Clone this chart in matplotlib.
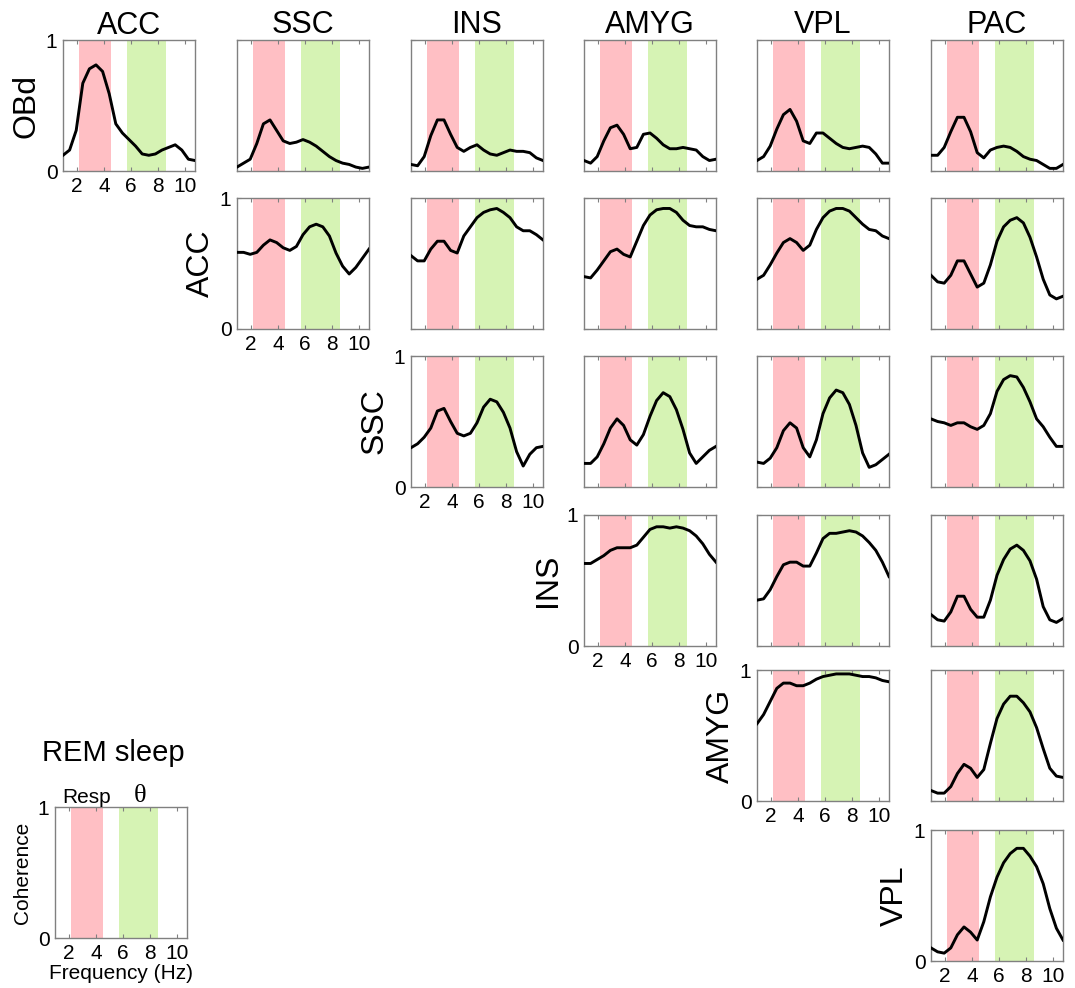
import matplotlib
matplotlib.use("Agg")
import matplotlib.pyplot as plt
import numpy as np

plt.rcParams['font.family'] = ['Liberation Sans', 'DejaVu Sans']

# frequency grid (Hz) shared by all coherence curves
freqs = np.linspace(1, 10.7, 21)

regions_col = ["ACC", "SSC", "INS", "AMYG", "VPL", "PAC"]
regions_row = ["OBd", "ACC", "SSC", "INS", "AMYG", "VPL"]

resp_band = (2.2, 4.5)
theta_band = (5.7, 8.6)

# coherence spectra, row region vs column region
obd_acc = [0.12, 0.16, 0.31, 0.67, 0.78, 0.81, 0.76, 0.59, 0.36, 0.29, 0.24,
           0.19, 0.13, 0.12, 0.13, 0.16, 0.18, 0.20, 0.16, 0.09, 0.08]
obd_ssc = [0.03, 0.06, 0.09, 0.21, 0.36, 0.39, 0.31, 0.23, 0.21, 0.22, 0.24,
           0.22, 0.19, 0.15, 0.11, 0.08, 0.06, 0.05, 0.03, 0.02, 0.03]
obd_ins = [0.05, 0.04, 0.11, 0.27, 0.39, 0.39, 0.28, 0.18, 0.15, 0.18, 0.20,
           0.16, 0.13, 0.12, 0.14, 0.16, 0.15, 0.15, 0.14, 0.10, 0.08]
obd_amyg = [0.08, 0.06, 0.11, 0.23, 0.33, 0.35, 0.28, 0.17, 0.18, 0.28, 0.29,
            0.25, 0.20, 0.17, 0.17, 0.18, 0.17, 0.16, 0.11, 0.08, 0.09]
obd_vpl = [0.08, 0.11, 0.19, 0.32, 0.43, 0.47, 0.38, 0.23, 0.21, 0.29, 0.29,
           0.25, 0.21, 0.18, 0.17, 0.18, 0.19, 0.18, 0.13, 0.06, 0.06]
obd_pac = [0.12, 0.12, 0.18, 0.30, 0.41, 0.41, 0.30, 0.14, 0.10, 0.16, 0.18,
           0.19, 0.18, 0.15, 0.11, 0.09, 0.08, 0.05, 0.02, 0.02, 0.05]

acc_ssc = [0.585, 0.585, 0.57, 0.585, 0.64, 0.68, 0.66, 0.62, 0.60, 0.63, 0.72,
           0.78, 0.80, 0.78, 0.71, 0.58, 0.48, 0.42, 0.47, 0.54, 0.61]
acc_ins = [0.56, 0.52, 0.52, 0.61, 0.67, 0.67, 0.60, 0.58, 0.71, 0.78, 0.85,
           0.89, 0.91, 0.92, 0.89, 0.85, 0.78, 0.75, 0.75, 0.72, 0.68]
acc_amyg = [0.40, 0.39, 0.45, 0.52, 0.59, 0.61, 0.57, 0.55, 0.67, 0.79, 0.87,
            0.91, 0.92, 0.92, 0.89, 0.83, 0.79, 0.78, 0.78, 0.76, 0.75]
acc_vpl = [0.38, 0.41, 0.49, 0.58, 0.66, 0.69, 0.66, 0.60, 0.64, 0.76, 0.85,
           0.90, 0.92, 0.92, 0.90, 0.85, 0.80, 0.76, 0.75, 0.71, 0.69]
acc_pac = [0.41, 0.36, 0.35, 0.41, 0.52, 0.52, 0.42, 0.32, 0.35, 0.49, 0.67,
           0.78, 0.83, 0.85, 0.81, 0.70, 0.55, 0.38, 0.26, 0.23, 0.25]

ssc_ins = [0.30, 0.33, 0.38, 0.45, 0.58, 0.60, 0.50, 0.41, 0.39, 0.41, 0.49,
           0.61, 0.67, 0.65, 0.57, 0.45, 0.27, 0.16, 0.25, 0.30, 0.31]
ssc_amyg = [0.18, 0.18, 0.23, 0.33, 0.45, 0.52, 0.47, 0.36, 0.32, 0.40, 0.54,
            0.66, 0.72, 0.69, 0.59, 0.44, 0.26, 0.18, 0.23, 0.28, 0.31]
ssc_vpl = [0.19, 0.18, 0.22, 0.30, 0.43, 0.49, 0.45, 0.30, 0.23, 0.36, 0.56,
           0.68, 0.74, 0.72, 0.63, 0.47, 0.26, 0.15, 0.17, 0.21, 0.25]
ssc_pac = [0.52, 0.50, 0.49, 0.47, 0.49, 0.49, 0.46, 0.44, 0.47, 0.56, 0.73,
           0.82, 0.85, 0.84, 0.76, 0.65, 0.52, 0.46, 0.38, 0.31, 0.31]

ins_amyg = [0.63, 0.63, 0.66, 0.69, 0.73, 0.75, 0.75, 0.75, 0.77, 0.83, 0.89,
            0.91, 0.91, 0.90, 0.91, 0.90, 0.88, 0.84, 0.78, 0.70, 0.64]
ins_vpl = [0.35, 0.36, 0.43, 0.53, 0.62, 0.64, 0.64, 0.61, 0.61, 0.71, 0.82,
           0.86, 0.86, 0.87, 0.88, 0.87, 0.84, 0.79, 0.73, 0.64, 0.53]
ins_pac = [0.24, 0.20, 0.19, 0.26, 0.38, 0.38, 0.28, 0.22, 0.22, 0.35, 0.54,
           0.66, 0.74, 0.77, 0.73, 0.65, 0.51, 0.30, 0.20, 0.18, 0.21]

amyg_vpl = [0.59, 0.66, 0.76, 0.86, 0.90, 0.90, 0.88, 0.88, 0.90, 0.93, 0.95,
            0.96, 0.97, 0.97, 0.97, 0.96, 0.95, 0.95, 0.94, 0.92, 0.91]
amyg_pac = [0.08, 0.06, 0.06, 0.11, 0.21, 0.28, 0.25, 0.18, 0.24, 0.44, 0.63,
            0.74, 0.80, 0.80, 0.75, 0.68, 0.56, 0.40, 0.25, 0.19, 0.18]

vpl_pac = [0.10, 0.07, 0.06, 0.10, 0.20, 0.26, 0.22, 0.16, 0.30, 0.49, 0.64,
           0.75, 0.82, 0.86, 0.86, 0.80, 0.72, 0.59, 0.40, 0.25, 0.16]

curves = {
    (0, 0): obd_acc, (0, 1): obd_ssc, (0, 2): obd_ins, (0, 3): obd_amyg,
    (0, 4): obd_vpl, (0, 5): obd_pac,
    (1, 1): acc_ssc, (1, 2): acc_ins, (1, 3): acc_amyg, (1, 4): acc_vpl,
    (1, 5): acc_pac,
    (2, 2): ssc_ins, (2, 3): ssc_amyg, (2, 4): ssc_vpl, (2, 5): ssc_pac,
    (3, 3): ins_amyg, (3, 4): ins_vpl, (3, 5): ins_pac,
    (4, 4): amyg_vpl, (4, 5): amyg_pac,
    (5, 5): vpl_pac,
}

W, H = 1075, 988
col_left = [63, 237, 411, 584, 757, 931]
row_top = [40, 198, 356, 515, 670, 830]
pw, ph = 132, 131

RED = "#ffbfc4"
GREEN = "#d6f3b4"
SPINE = "#808080"


def make_axes(fig, left, top):
    ax = fig.add_axes([left / W, 1 - (top + ph) / H, pw / W, ph / H])
    ax.axvspan(*resp_band, color=RED, lw=0, zorder=0)
    ax.axvspan(*theta_band, color=GREEN, lw=0, zorder=0)
    ax.set_xlim(1, 10.7)
    ax.set_ylim(0, 1)
    ax.set_xticks([2, 4, 6, 8, 10])
    ax.set_yticks([0, 1])
    ax.tick_params(direction="in", length=3, width=0.8, color=SPINE,
                   top=True, right=False, labelsize=15, pad=4)
    for s in ax.spines.values():
        s.set_color(SPINE)
        s.set_linewidth(1.0)
    return ax


fig = plt.figure(figsize=(W / 100, H / 100), dpi=100)

for (r, c), y in curves.items():
    ax = make_axes(fig, col_left[c], row_top[r])
    ax.plot(freqs, y, color="black", lw=2.1, zorder=3)
    if r == 0:
        ax.set_title(regions_col[c], fontsize=22, pad=4)
    if r == c:
        ax.text(-0.275, 0.5, regions_row[r], transform=ax.transAxes,
                rotation=90, ha="center", va="center", fontsize=23)
    else:
        ax.set_yticklabels([])
        ax.set_xticklabels([])

# legend / key panel
ax = make_axes(fig, 55, 807)
ax.set_ylabel("Coherence", fontsize=15, labelpad=4)
ax.set_xlabel("Frequency (Hz)", fontsize=15, labelpad=1)
ax.text(np.mean(resp_band), 1.0, "Resp", ha="center", va="bottom",
        fontsize=15)
ax.text(np.mean(theta_band) + 0.1, 1.0, "θ", ha="center", va="bottom",
        fontsize=19, family=["Liberation Serif", "DejaVu Serif"])
fig.text(113 / W, 1 - 753 / H, "REM sleep", ha="center", va="center",
         fontsize=21)

fig.savefig("out.png", dpi=100)
